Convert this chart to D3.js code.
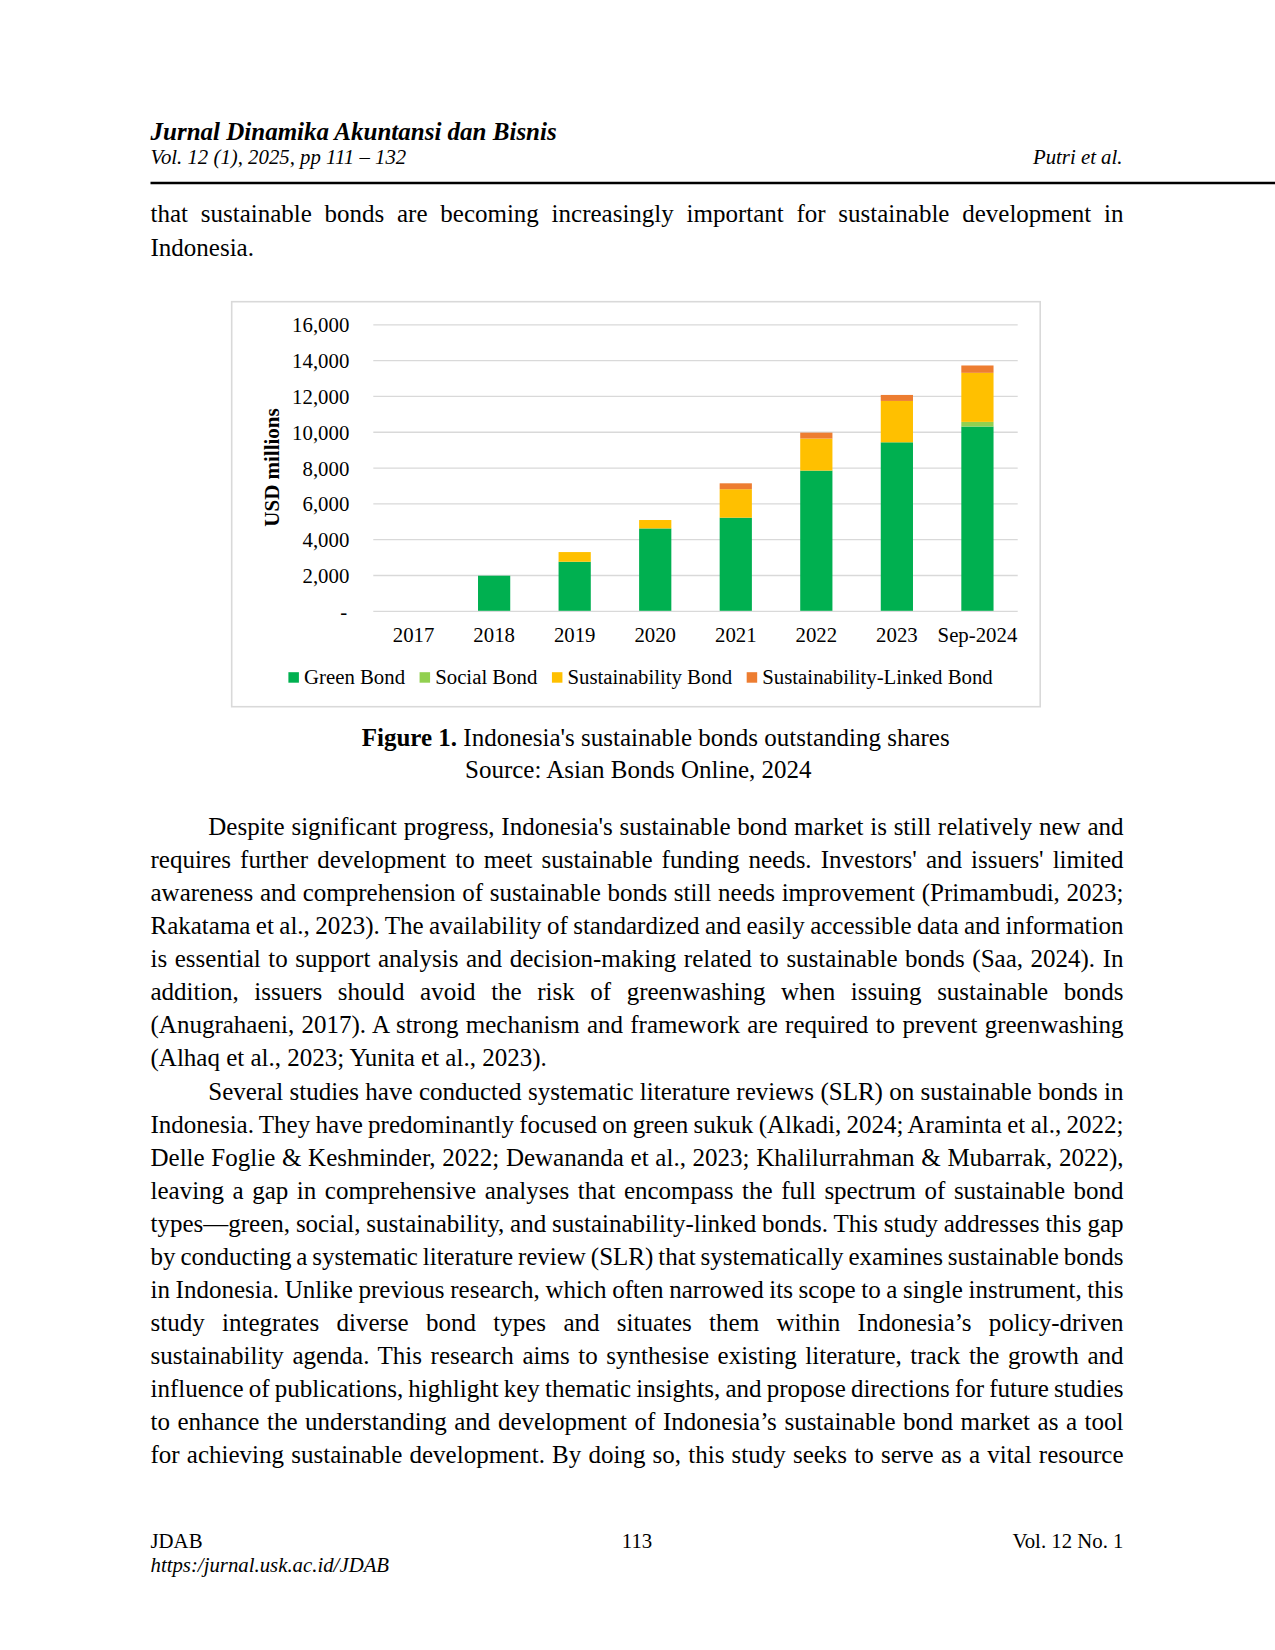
<!DOCTYPE html>
<html>
<head>
<meta charset="utf-8">
<script src="https://cdn.jsdelivr.net/npm/d3@7"></script>
<style>
  body { margin: 0; background: #fff; }
  svg { display: block; }
</style>
</head>
<body>
<div id="page"></div>
<script>
// chart data (USD millions)
const categories = ["2017", "2018", "2019", "2020", "2021", "2022", "2023", "Sep-2024"];
const greenBond = [0, 1960, 2740, 4600, 5200, 7830, 9410, 10290];
const socialBond = [0, 0, 0, 0, 0, 0, 0, 260];
const sustainabilityBond = [0, 0, 540, 470, 1590, 1790, 2310, 2740];
const linkedBond = [0, 0, 0, 0, 330, 330, 335, 410];
const seriesNames = ["Green Bond", "Social Bond", "Sustainability Bond", "Sustainability-Linked Bond"];
const seriesColors = ["#00B050", "#92D050", "#FFC000", "#ED7D31"];
const yTicks = [0, 2000, 4000, 6000, 8000, 10000, 12000, 14000, 16000];

// page text
const topLines = [
    "that sustainable bonds are becoming increasingly important for sustainable development in",
    "Indonesia."
];
const bodyLines = [
    "Despite significant progress, Indonesia's sustainable bond market is still relatively new and",
    "requires further development to meet sustainable funding needs. Investors' and issuers' limited",
    "awareness and comprehension of sustainable bonds still needs improvement (Primambudi, 2023;",
    "Rakatama et al., 2023). The availability of standardized and easily accessible data and information",
    "is essential to support analysis and decision-making related to sustainable bonds (Saa, 2024). In",
    "addition, issuers should avoid the risk of greenwashing when issuing sustainable bonds",
    "(Anugrahaeni, 2017). A strong mechanism and framework are required to prevent greenwashing",
    "(Alhaq et al., 2023; Yunita et al., 2023).",
    "Several studies have conducted systematic literature reviews (SLR) on sustainable bonds in",
    "Indonesia. They have predominantly focused on green sukuk (Alkadi, 2024; Araminta et al., 2022;",
    "Delle Foglie & Keshminder, 2022; Dewananda et al., 2023; Khalilurrahman & Mubarrak, 2022),",
    "leaving a gap in comprehensive analyses that encompass the full spectrum of sustainable bond",
    "types\u2014green, social, sustainability, and sustainability-linked bonds. This study addresses this gap",
    "by conducting a systematic literature review (SLR) that systematically examines sustainable bonds",
    "in Indonesia. Unlike previous research, which often narrowed its scope to a single instrument, this",
    "study integrates diverse bond types and situates them within Indonesia\u2019s policy-driven",
    "sustainability agenda. This research aims to synthesise existing literature, track the growth and",
    "influence of publications, highlight key thematic insights, and propose directions for future studies",
    "to enhance the understanding and development of Indonesia\u2019s sustainable bond market as a tool",
    "for achieving sustainable development. By doing so, this study seeks to serve as a vital resource"
];
const indentLines = [0, 8];
const lastLines = [7];

const W = 1275, H = 1650;
const serif = "'Liberation Serif', 'Times New Roman', serif";
const left = 150.5, right = 1123.5;

const svg = d3.select("#page").append("svg")
    .attr("width", W)
    .attr("height", H)
    .style("font-family", serif);

// justified line: stretch word gaps to fill x0..x1
function textLine(x0, x1, y, str, justify) {
    const t = svg.append("text")
        .attr("x", x0)
        .attr("y", y)
        .style("font-size", "25px")
        .attr("fill", "#000")
        .text(str);
    if (justify) {
        const w = t.node().getComputedTextLength();
        const gaps = (str.match(/ /g) || []).length;
        if (gaps > 0) t.style("word-spacing", ((x1 - x0 - w) / gaps) + "px");
    }
    return t;
}

// header
svg.append("text").attr("x", left).attr("y", 140)
    .style("font-size", "25px").style("font-weight", "bold").style("font-style", "italic")
    .text("Jurnal Dinamika Akuntansi dan Bisnis");
svg.append("text").attr("x", left).attr("y", 164)
    .style("font-size", "20.8px").style("font-style", "italic")
    .text("Vol. 12 (1), 2025, pp 111 \u2013 132");
svg.append("text").attr("x", 1122.5).attr("y", 164)
    .attr("text-anchor", "end")
    .style("font-size", "20.8px").style("font-style", "italic")
    .text("Putri et al.");
svg.append("line")
    .attr("x1", left).attr("x2", W)
    .attr("y1", 183).attr("y2", 183)
    .attr("stroke", "#000").attr("stroke-width", 2.5);

textLine(left, right, 221.7, topLines[0], true);
textLine(left, right, 255.7, topLines[1], false);

// ---------- chart ----------
const frame = { x: 231.7, y: 301.7, w: 808.5, h: 405 };
svg.append("rect")
    .attr("x", frame.x).attr("y", frame.y)
    .attr("width", frame.w).attr("height", frame.h)
    .attr("fill", "#fff")
    .attr("stroke", "#d9d9d9")
    .attr("stroke-width", 1.6);

const plot = { left: 373.3, right: 1017.7, top: 324.3, bottom: 610.8 };
const chartFont = "20.8px";

const x = d3.scaleBand()
    .domain(categories)
    .range([plot.left, plot.right])
    .paddingInner(0.6)
    .paddingOuter(0.3);

const y = d3.scaleLinear()
    .domain([0, 16000])
    .range([plot.bottom, plot.top]);

// gridlines
const grid = svg.append("g")
    .attr("transform", `translate(${plot.left},0)`)
    .call(d3.axisLeft(y)
        .tickValues(yTicks)
        .tickSize(-(plot.right - plot.left))
        .tickFormat(""));
grid.select(".domain").remove();
grid.selectAll("line").attr("stroke", "#d9d9d9").attr("stroke-width", 1.3);

// y tick labels
const yAxis = svg.append("g")
    .attr("transform", `translate(${plot.left},0)`)
    .call(d3.axisLeft(y)
        .tickValues(yTicks)
        .tickSize(0)
        .tickPadding(24)
        .tickFormat(d => d === 0 ? "-" : d3.format(",")(d)));
yAxis.select(".domain").remove();
yAxis.selectAll("text")
    .attr("dy", "0.36em")
    .attr("fill", "#000")
    .style("font-family", serif)
    .style("font-size", chartFont);
yAxis.selectAll("text").filter(d => d === 0).attr("dx", "-2px");

// stacked bars
const rows = categories.map((c, i) => ({
    cat: c,
    "Green Bond": greenBond[i],
    "Social Bond": socialBond[i],
    "Sustainability Bond": sustainabilityBond[i],
    "Sustainability-Linked Bond": linkedBond[i]
}));
const stacked = d3.stack().keys(seriesNames)(rows);
const color = d3.scaleOrdinal().domain(seriesNames).range(seriesColors);

svg.append("g")
    .selectAll("g")
    .data(stacked)
    .join("g")
    .attr("fill", d => color(d.key))
    .selectAll("rect")
    .data(d => d.filter(s => s[1] - s[0] > 0))
    .join("rect")
    .attr("x", d => x(d.data.cat))
    .attr("width", x.bandwidth())
    .attr("y", d => y(d[1]))
    .attr("height", d => y(d[0]) - y(d[1]));

// x axis labels
const xAxis = svg.append("g")
    .attr("transform", `translate(0,${plot.bottom})`)
    .call(d3.axisBottom(x).tickSize(0).tickPadding(16.5));
xAxis.select(".domain").remove();
xAxis.selectAll("text")
    .attr("fill", "#000")
    .style("font-family", serif)
    .style("font-size", chartFont);

// y axis title
svg.append("text")
    .attr("transform", "translate(279,467.5) rotate(-90)")
    .attr("text-anchor", "middle")
    .style("font-size", "21px")
    .style("font-weight", "bold")
    .text("USD millions");

// legend
const legend = svg.append("g");
let lx = 288.4;
seriesNames.forEach((name, i) => {
    legend.append("rect")
        .attr("x", lx).attr("y", 672.2)
        .attr("width", 10.5).attr("height", 10.5)
        .attr("fill", seriesColors[i]);
    const t = legend.append("text")
        .attr("x", lx + 15.6).attr("y", 684)
        .style("font-size", chartFont)
        .text(name);
    lx += 15.6 + t.node().getComputedTextLength() + 14.5;
});

// caption
const cap = svg.append("text").attr("x", 361.7).attr("y", 745.7).style("font-size", "25px");
cap.append("tspan").style("font-weight", "bold").text("Figure 1.");
cap.append("tspan").text(" Indonesia's sustainable bonds outstanding shares");
svg.append("text").attr("x", 465).attr("y", 778.3).style("font-size", "25px")
    .text("Source: Asian Bonds Online, 2024");

// body paragraphs
const lineGap = 33.07;
bodyLines.forEach((str, i) => {
    const x0 = indentLines.includes(i) ? 208.3 : left;
    textLine(x0, right, 835 + i * lineGap, str, !lastLines.includes(i));
});

// footer
svg.append("text").attr("x", left).attr("y", 1547.7).style("font-size", "20.8px").text("JDAB");
svg.append("text").attr("x", 637).attr("y", 1547.7).attr("text-anchor", "middle")
    .style("font-size", "20.8px").text("113");
svg.append("text").attr("x", right).attr("y", 1547.7).attr("text-anchor", "end")
    .style("font-size", "20.8px").text("Vol. 12 No. 1");
svg.append("text").attr("x", left).attr("y", 1571.7)
    .style("font-size", "20.8px").style("font-style", "italic")
    .text("https:/jurnal.usk.ac.id/JDAB");
</script>
</body>
</html>
